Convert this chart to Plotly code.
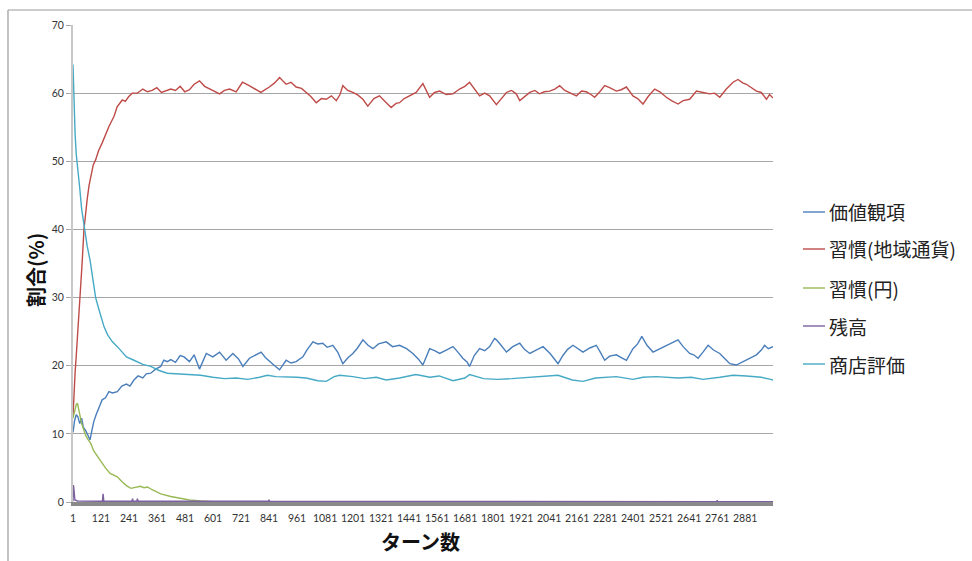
import plotly.graph_objects as go

# ---- data: share (%) of agents per state, by turn ----
series_names = ["価値観項", "習慣(地域通貨)", "習慣(円)", "残高", "商店評価"]
series_colors = ["#4a7ebb", "#be4b48", "#98b954", "#7d60a0", "#46aac5"]

turns_value = [1, 8, 15, 22, 30, 38, 45, 55, 65, 74, 82, 90, 100, 110, 126, 140, 155, 170, 191, 210,
               230, 245, 262, 280, 300, 315, 334, 355, 377, 390, 405, 420, 440, 460, 477, 500, 520,
               543, 560, 572, 600, 629, 657, 686, 710, 729, 757, 780, 807, 825, 843, 865, 886, 914,
               935, 957, 986, 1005, 1029, 1050, 1071, 1090, 1114, 1135, 1157, 1180, 1200, 1220, 1243,
               1265, 1286, 1310, 1343, 1370, 1400, 1430, 1457, 1480, 1500, 1515, 1529, 1550, 1572,
               1600, 1629, 1650, 1671, 1690, 1700, 1720, 1743, 1765, 1786, 1807, 1815, 1835, 1858,
               1885, 1915, 1935, 1958, 1985, 2015, 2045, 2065, 2079, 2100, 2120, 2143, 2165, 2186,
               2215, 2243, 2260, 2279, 2300, 2329, 2350, 2372, 2400, 2420, 2438, 2460, 2486, 2515,
               2543, 2570, 2593, 2615, 2643, 2660, 2679, 2700, 2722, 2745, 2772, 2795, 2815, 2843,
               2865, 2886, 2910, 2929, 2950, 2964, 2980, 3000]
value_pct = [10.2, 12.0, 12.8, 12.5, 11.5, 12.3, 11.0, 10.5, 9.8, 9.1, 10.5, 11.8, 12.8, 13.7, 15.0,
             15.3, 16.2, 16.0, 16.2, 17.0, 17.3, 17.0, 17.9, 18.5, 18.2, 18.8, 18.9, 19.5, 19.9, 20.8,
             20.6, 20.9, 20.5, 21.5, 21.3, 20.6, 21.6, 19.5, 21.0, 21.8, 21.3, 22.0, 20.8, 21.8, 21.0,
             19.9, 21.1, 21.5, 22.0, 21.2, 20.6, 20.0, 19.4, 20.8, 20.4, 20.6, 21.3, 22.4, 23.5, 23.2,
             23.3, 22.7, 23.0, 22.0, 20.3, 21.2, 21.8, 22.6, 23.8, 23.0, 22.5, 23.2, 23.5, 22.8, 23.0,
             22.5, 21.8, 21.0, 20.1, 21.5, 22.5, 22.2, 21.8, 22.3, 22.8, 22.0, 21.1, 20.5, 19.9, 21.5,
             22.5, 22.2, 22.8, 24.0, 23.8, 23.0, 22.0, 22.8, 23.3, 22.4, 21.8, 22.3, 22.8, 21.8, 21.0,
             20.3, 21.5, 22.4, 23.0, 22.5, 22.0, 22.6, 23.0, 22.0, 20.8, 21.4, 21.6, 21.2, 20.8, 22.5,
             23.2, 24.3, 23.0, 22.0, 22.5, 23.0, 23.5, 23.8, 22.8, 21.8, 21.6, 21.1, 22.0, 23.0, 22.3,
             21.8, 21.0, 20.3, 20.1, 20.5, 20.8, 21.2, 21.6, 22.3, 23.0, 22.5, 22.8]

turns_local = [1, 5, 10, 15, 20, 25, 31, 40, 48, 55, 62, 70, 79, 88, 98, 110, 126, 140, 155, 165, 177,
               190, 200, 212, 225, 240, 255, 277, 300, 320, 340, 360, 380, 400, 420, 440, 460, 480, 500,
               520, 543, 565, 586, 610, 629, 650, 672, 700, 727, 756, 780, 806, 842, 865, 886, 914, 935,
               957, 980, 1000, 1020, 1043, 1065, 1086, 1108, 1129, 1145, 1157, 1178, 1200, 1222, 1243,
               1264, 1290, 1314, 1340, 1364, 1385, 1400, 1420, 1443, 1471, 1500, 1515, 1529, 1550, 1572,
               1600, 1629, 1657, 1680, 1700, 1720, 1743, 1765, 1786, 1815, 1836, 1858, 1880, 1900, 1915,
               1935, 1958, 1980, 2000, 2020, 2043, 2065, 2086, 2108, 2129, 2158, 2180, 2200, 2220, 2236,
               2258, 2279, 2300, 2329, 2350, 2372, 2400, 2420, 2443, 2465, 2493, 2515, 2543, 2565, 2593,
               2615, 2643, 2672, 2700, 2729, 2750, 2772, 2800, 2829, 2850, 2870, 2886, 2910, 2929, 2950,
               2972, 2985, 3000]
local_pct = [12.5, 16.0, 19.0, 21.5, 24.0, 27.0, 30.6, 35.0, 40.0, 42.5, 44.5, 46.5, 48.3, 49.5, 50.2,
             51.5, 52.7, 54.0, 55.1, 55.8, 56.6, 58.0, 58.5, 59.0, 58.8, 59.5, 60.0, 60.0, 60.6, 60.2,
             60.4, 60.8, 60.1, 60.3, 60.6, 60.4, 61.0, 60.2, 60.5, 61.3, 61.8, 61.0, 60.6, 60.2, 59.9,
             60.4, 60.6, 60.2, 61.6, 61.1, 60.6, 60.1, 60.9, 61.5, 62.3, 61.3, 61.6, 60.9, 60.7, 60.1,
             59.5, 58.6, 59.2, 59.1, 59.6, 58.9, 59.8, 61.1, 60.4, 60.1, 59.7, 59.1, 58.1, 59.2, 59.6,
             58.7, 57.9, 58.5, 58.6, 59.2, 59.6, 60.1, 61.4, 60.3, 59.4, 60.1, 60.3, 59.8, 59.9, 60.6,
             61.0, 61.6, 60.7, 59.6, 60.0, 59.6, 58.3, 59.2, 60.1, 60.4, 59.9, 58.9, 59.5, 60.1, 60.4,
             59.9, 60.2, 60.3, 60.6, 61.1, 60.4, 60.1, 59.6, 60.3, 60.2, 59.8, 59.4, 60.2, 61.1, 60.8,
             60.3, 60.5, 60.9, 59.6, 59.2, 58.4, 59.5, 60.6, 60.2, 59.4, 58.9, 58.4, 58.9, 59.1, 60.3,
             60.1, 59.9, 60.0, 59.4, 60.6, 61.6, 62.0, 61.5, 61.3, 60.8, 60.3, 60.1, 59.1, 59.8, 59.3]

turns_yen = [1, 5, 10, 15, 20, 25, 30, 38, 45, 55, 65, 77, 90, 100, 120, 140, 160, 191, 210, 230, 249,
             265, 277, 290, 305, 320, 340, 377, 420, 462, 500, 548, 600, 700, 3000]
yen_pct = [12.3, 13.0, 13.8, 14.3, 14.5, 13.5, 12.5, 11.5, 10.8, 9.8, 9.2, 8.6, 7.5, 7.0, 6.1, 5.0, 4.2,
           3.7, 3.0, 2.4, 2.0, 2.1, 2.2, 2.3, 2.1, 2.2, 1.8, 1.2, 0.8, 0.5, 0.3, 0.15, 0.05, 0.0, 0.0]

turns_balance = [1, 3, 6, 9, 20, 127, 130, 133, 253, 256, 259, 274, 277, 280, 839, 841, 843,
                 2759, 2761, 2763, 3000]
balance_pct = [0.1, 2.5, 1.5, 0.3, 0.15, 0.1, 1.2, 0.1, 0.1, 0.5, 0.1, 0.1, 0.5, 0.1, 0.1, 0.35, 0.1,
               0.05, 0.25, 0.05, 0.05]

turns_shop = [1, 5, 10, 15, 24, 30, 38, 51, 62, 74, 85, 98, 110, 120, 134, 150, 170, 191, 210, 230,
              262, 300, 334, 370, 405, 450, 500, 548, 600, 650, 700, 750, 800, 834, 870, 914, 960,
              1000, 1050, 1086, 1120, 1143, 1200, 1250, 1300, 1343, 1400, 1470, 1530, 1570, 1629,
              1680, 1700, 1760, 1820, 1880, 1958, 2000, 2079, 2140, 2186, 2240, 2329, 2400, 2443,
              2500, 2593, 2650, 2700, 2772, 2829, 2886, 2950, 2990, 3000]
shop_pct = [64.2, 58.0, 54.0, 51.0, 48.3, 46.0, 43.0, 40.0, 37.5, 35.5, 33.0, 30.0, 28.5, 27.2, 25.7,
            24.5, 23.5, 22.8, 22.0, 21.3, 20.8, 20.2, 19.9, 19.3, 18.9, 18.8, 18.7, 18.6, 18.3, 18.1,
            18.2, 18.0, 18.3, 18.6, 18.4, 18.4, 18.3, 18.2, 17.8, 17.7, 18.4, 18.6, 18.4, 18.1, 18.3,
            17.9, 18.2, 18.7, 18.3, 18.5, 17.8, 18.2, 18.7, 18.1, 18.0, 18.1, 18.3, 18.4, 18.6, 17.9,
            17.7, 18.2, 18.4, 18.0, 18.3, 18.4, 18.2, 18.3, 18.0, 18.3, 18.6, 18.5, 18.3, 18.0, 17.9]

xs = [turns_value, turns_local, turns_yen, turns_balance, turns_shop]
ys = [value_pct, local_pct, yen_pct, balance_pct, shop_pct]

x_ticks = list(range(1, 3000, 120))
y_ticks = list(range(0, 71, 10))

JP = "Noto Sans CJK JP"
NUM = "Lato, Noto Sans, sans-serif"

fig = go.Figure()
for name, color, x, y in zip(series_names, series_colors, xs, ys):
    fig.add_trace(go.Scatter(x=x, y=y, name=name, mode="lines",
                             line=dict(color=color, width=1.4), showlegend=False))

# plot geometry in pixels, used to place paper-space decorations
W, H = 972, 561
L, R, T, B = 73, 199, 25, 59
pw, ph = W - L - R, H - T - B


def px(xp):
    return (xp - L) / pw


def py(yp):
    return (H - B - yp) / ph


shapes = []
annotations = []

# outer chart frame (top and left edges)
shapes.append(dict(type="line", xref="paper", yref="paper", x0=px(8), x1=px(990),
                   y0=py(10), y1=py(10), line=dict(color="#9a9a9a", width=1.2)))
shapes.append(dict(type="line", xref="paper", yref="paper", x0=px(8), x1=px(8),
                   y0=py(10), y1=py(580), line=dict(color="#9a9a9a", width=1.2)))

# legend drawn as short line keys with labels
legend_y = [212, 249, 288, 326, 364]
for name, color, ly in zip(series_names, series_colors, legend_y):
    shapes.append(dict(type="line", xref="paper", yref="paper", x0=px(803), x1=px(825),
                       y0=py(ly), y1=py(ly), line=dict(color=color, width=1.4)))
    annotations.append(dict(xref="paper", yref="paper", x=px(827), y=py(ly), text=name,
                            showarrow=False, xanchor="left", yanchor="middle",
                            font=dict(family=JP, size=19, color="#222222")))

# axis titles
annotations.append(dict(xref="paper", yref="paper", x=px(35), y=py(270), text="<b>割合(%)</b>",
                        showarrow=False, textangle=-90, xanchor="center", yanchor="middle",
                        font=dict(family=JP, size=20, color="#111111")))
annotations.append(dict(xref="paper", yref="paper", x=px(420), y=py(541), text="<b>ターン数</b>",
                        showarrow=False, xanchor="center", yanchor="middle",
                        font=dict(family=JP, size=20, color="#111111")))

fig.update_layout(
    width=W, height=H,
    margin=dict(l=L, r=R, t=T, b=B),
    paper_bgcolor="white", plot_bgcolor="white",
    shapes=shapes, annotations=annotations,
    xaxis=dict(range=[1, 3000], tickmode="array", tickvals=x_ticks,
               ticktext=[str(v) for v in x_ticks], showgrid=False, zeroline=False,
               showline=True, linecolor="#8a8a8a", linewidth=3.5, ticks="outside", ticklen=4,
               tickcolor="rgba(0,0,0,0)",
               tickfont=dict(family=NUM, size=10.5, color="#333333"), layer="below traces"),
    yaxis=dict(range=[0, 70], tickmode="array", tickvals=y_ticks, showgrid=True,
               gridcolor="#a6a6a6", gridwidth=1, zeroline=False, showline=True,
               linecolor="#c8c8c8", linewidth=2, ticks="outside", ticklen=5,
               tickcolor="#a6a6a6", tickfont=dict(family=NUM, size=10.5, color="#333333")),
)

fig.write_html("out.html")
